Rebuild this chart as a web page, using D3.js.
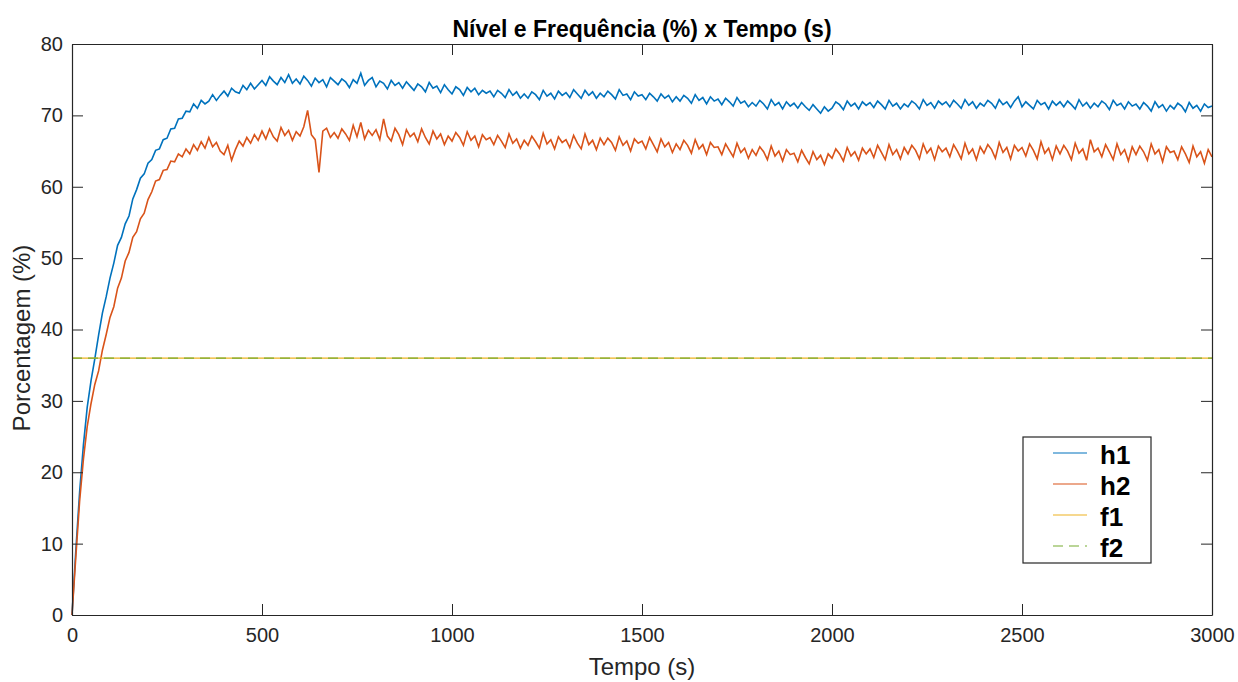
<!DOCTYPE html>
<html>
<head>
<meta charset="utf-8">
<script src="https://cdn.jsdelivr.net/npm/d3@7"></script>
<style>
  body { margin: 0; background: #fff; }
  svg { font-family: "Liberation Sans", Arial, sans-serif; }
  .axis path, .axis line { stroke: #262626; }
  .axis text { fill: #262626; font-size: 20px; }
</style>
</head>
<body>
<svg id="chart" width="1238" height="682"></svg>
<script>
// sample times (s), one sample every 10 s
var time = d3.range(0, 3001, 10);

// nivel 1 (%)
var h1 = [
  0, 9.0, 17.2, 23.8, 29.1, 32.8, 35.9, 39.2, 42.3, 44.6,
  47.2, 49.3, 51.8, 52.9, 54.8, 55.9, 58.3, 59.6, 61.2, 61.8,
  63.3, 63.8, 65.1, 65.3, 66.6, 66.8, 68.1, 68.2, 69.5, 69.6,
  70.6, 70.5, 71.6, 71.0, 72.1, 71.6, 72.0, 72.9, 72.1, 72.8,
  73.4, 72.7, 73.8, 73.3, 73.1, 74.2, 73.6, 74.5, 73.7, 74.3,
  74.9, 74.2, 75.4, 74.8, 74.3, 75.3, 74.6, 75.7, 74.5, 75.1,
  74.4, 75.5, 74.9, 74.1, 75.2, 74.6, 75.0, 74.0, 75.3, 74.8,
  74.3, 75.1, 74.7, 73.9, 75.0, 74.5, 75.9, 74.2, 74.9, 75.3,
  74.0, 74.8, 74.5, 73.7, 74.9, 74.2, 74.6, 73.8, 74.7, 74.1,
  73.5, 74.4, 74.0, 73.3, 74.6, 73.8, 74.1, 73.2, 74.3, 73.6,
  73.0, 74.0, 73.6, 72.8, 73.9, 73.3, 73.8, 72.9, 73.5, 73.1,
  73.4, 72.6, 73.5, 73.1, 72.5, 73.6, 72.8, 73.3, 72.4, 73.0,
  72.4, 73.3, 72.9, 72.2, 73.5, 72.7, 73.1, 72.3, 73.4, 72.8,
  73.2, 72.5, 73.6, 73.0, 72.4, 73.5, 72.8, 73.3, 72.4, 73.1,
  72.6, 73.4, 72.9, 72.3, 73.6, 72.8, 73.0, 72.2, 73.3, 72.7,
  72.9, 72.2, 73.1, 72.6, 72.0, 73.0, 72.4, 72.8, 71.9, 72.6,
  72.0, 72.8, 72.4, 71.7, 72.9, 72.1, 72.5, 71.6, 72.6, 72.0,
  72.3, 71.5, 72.4, 71.9, 71.3, 72.5, 71.7, 72.0, 71.2, 71.8,
  71.3, 72.1, 71.6, 70.9, 72.2, 71.4, 71.8, 70.9, 71.9, 71.3,
  71.7, 71.0, 71.8, 71.2, 70.7, 71.5, 70.9, 70.3, 71.2, 70.6,
  71.0, 71.9, 71.5, 70.8, 72.0, 71.3, 71.7, 70.9, 71.9, 71.4,
  71.8, 71.1, 72.0, 71.5, 70.9, 72.1, 71.3, 71.7, 70.9, 71.6,
  71.2, 72.0, 71.6, 70.9, 72.2, 71.4, 71.8, 71.0, 72.0, 71.5,
  71.9, 71.2, 72.1, 71.6, 71.0, 72.2, 71.4, 71.9, 71.0, 71.7,
  71.3, 72.1, 71.7, 71.0, 72.2, 71.5, 71.9, 71.1, 72.0, 72.6,
  71.2, 71.9, 71.4, 70.9, 72.1, 71.5, 71.8, 70.9, 72.0, 71.4,
  71.9, 71.2, 72.0, 71.5, 70.9, 72.2, 71.3, 71.8, 71.0, 71.7,
  71.2, 72.0, 71.6, 70.8, 72.1, 71.4, 71.7, 70.9, 71.9, 71.3,
  71.6, 70.9, 71.8, 71.3, 70.6, 71.9, 71.1, 71.5, 70.6, 71.4,
  70.9, 71.7, 71.3, 70.5, 71.8, 71.0, 71.4, 70.6, 71.6, 71.1,
  71.3
];

// nivel 2 (%)
var h2 = [
  0, 8.1, 15.9, 21.8, 26.4, 29.6, 32.3, 34.2, 37.1, 39.3,
  41.7, 43.2, 45.8, 47.2, 49.6, 50.8, 52.9, 53.7, 55.5, 56.3,
  58.2, 59.3, 60.8, 61.0, 62.3, 62.4, 63.6, 63.5, 64.6, 64.2,
  65.3, 64.6, 65.9, 65.1, 66.3, 65.4, 66.9, 65.6, 66.2, 65.0,
  64.5, 65.8, 63.7, 65.2, 66.4, 65.7, 66.9, 66.1, 67.3, 66.5,
  67.8, 66.7, 68.1, 67.0, 66.4, 68.3, 67.2, 67.9, 66.5, 67.7,
  67.1, 68.4, 70.7, 67.3, 66.6, 62.0, 67.8, 68.2, 66.9, 67.6,
  66.8, 68.1, 67.4, 66.5, 68.6, 67.0, 69.0, 66.7, 67.9, 67.2,
  68.0, 66.6, 69.5, 67.1, 66.4, 68.2, 67.3, 65.9, 68.0, 67.0,
  67.5, 66.3, 68.1, 66.9, 66.0, 67.8, 66.7, 67.4, 65.9, 67.1,
  66.4, 67.6, 66.9, 65.8, 67.7, 66.5, 67.1, 65.6, 67.3, 66.6,
  66.9, 65.9, 67.2, 66.4, 65.5, 67.4, 66.1, 66.7, 65.4, 66.5,
  65.8, 67.1, 66.3, 65.4, 67.5, 66.0, 66.6, 65.3, 67.0, 66.2,
  66.6, 65.5, 67.2, 66.1, 65.3, 67.4, 65.9, 66.5, 65.2, 66.8,
  65.9, 66.8, 66.2, 65.1, 67.0, 65.8, 66.4, 65.0, 66.7, 66.1,
  66.4, 65.3, 66.9, 65.9, 64.9, 66.7, 65.6, 66.2, 64.8, 66.0,
  65.2, 66.5, 65.8, 64.7, 66.6, 65.3, 65.9, 64.5, 66.2, 65.5,
  65.6, 64.5, 66.0, 65.1, 64.2, 66.1, 64.8, 65.4, 64.0, 65.2,
  64.4, 65.6, 64.9, 63.8, 65.7, 64.3, 65.0, 63.6, 65.2, 64.5,
  64.7, 63.5, 65.1, 64.1, 63.2, 64.9, 63.8, 64.4, 63.1, 64.6,
  64.0, 65.3, 64.6, 63.6, 65.5, 64.3, 64.9, 63.7, 65.4, 64.6,
  65.3, 64.1, 65.8, 64.8, 63.8, 65.9, 64.5, 65.2, 63.9, 65.5,
  64.6, 65.8, 65.1, 63.9, 66.0, 64.7, 65.4, 63.8, 65.7, 64.9,
  65.4, 64.2, 65.9, 65.0, 63.9, 66.1, 64.6, 65.3, 63.8, 65.6,
  64.7, 65.9, 65.2, 64.0, 66.2, 64.8, 65.5, 63.9, 65.8, 65.0,
  65.5, 64.3, 66.0, 65.1, 63.9, 66.3, 64.7, 65.4, 63.8, 65.7,
  64.6, 65.8, 65.0, 63.8, 66.1, 64.7, 65.3, 63.7, 66.6, 64.9,
  65.4, 64.2, 65.9, 64.9, 63.8, 66.0, 64.5, 65.2, 63.6, 65.6,
  64.5, 65.7, 64.9, 63.7, 66.0, 64.6, 65.2, 63.5, 65.6, 64.8,
  65.0, 63.8, 65.6, 64.6, 63.4, 65.7, 64.2, 64.9, 63.3, 65.2,
  64.2
];

// frequencias (%), constantes
var fTime = [0, 3000];
var f1 = [36, 36];
var f2 = [36, 36];

var xTicks = [0, 500, 1000, 1500, 2000, 2500, 3000];
var yTicks = [0, 10, 20, 30, 40, 50, 60, 70, 80];
var legendLabels = ["h1", "h2", "f1", "f2"];

var colors = { h1: "#0072BD", h2: "#D95319", f1: "#EDB120", f2: "#77AC30" };

var margin = { left: 72, top: 44, right: 26, bottom: 67 };
var width = 1238 - margin.left - margin.right;
var height = 682 - margin.top - margin.bottom;

var svg = d3.select("#chart");
var g = svg.append("g")
  .attr("transform", "translate(" + margin.left + "," + margin.top + ")");

var xScale = d3.scaleLinear().domain([0, 3000]).range([0, width]);
var yScale = d3.scaleLinear().domain([0, 80]).range([height, 0]);

var line = d3.line()
  .x(function (d) { return xScale(d[0]); })
  .y(function (d) { return yScale(d[1]); });

function pairs(xs, ys) {
  return xs.map(function (x, i) { return [x, ys[i]]; });
}

g.append("path")
  .datum(pairs(time, h1))
  .attr("d", line)
  .attr("fill", "none")
  .attr("stroke", colors.h1)
  .attr("stroke-width", 1.6);

g.append("path")
  .datum(pairs(time, h2))
  .attr("d", line)
  .attr("fill", "none")
  .attr("stroke", colors.h2)
  .attr("stroke-width", 1.6);

g.append("path")
  .datum(pairs(fTime, f1))
  .attr("d", line)
  .attr("fill", "none")
  .attr("stroke", colors.f1)
  .attr("stroke-width", 1.2);

g.append("path")
  .datum(pairs(fTime, f2))
  .attr("d", line)
  .attr("fill", "none")
  .attr("stroke", colors.f2)
  .attr("stroke-width", 1.2)
  .attr("stroke-dasharray", "10,6");

// axes, ticks pointing inward like matlab
var tick = 11;
var fmt = d3.format("d");
g.append("g").attr("class", "axis")
  .attr("transform", "translate(0," + height + ")")
  .call(d3.axisBottom(xScale).tickValues(xTicks).tickFormat(fmt).tickSize(-tick).tickSizeOuter(0).tickPadding(13));
g.append("g").attr("class", "axis")
  .call(d3.axisTop(xScale).tickValues(xTicks).tickSize(-tick).tickSizeOuter(0).tickFormat(""));
g.append("g").attr("class", "axis")
  .call(d3.axisLeft(yScale).tickValues(yTicks).tickFormat(fmt).tickSize(-tick).tickSizeOuter(0).tickPadding(9));
g.append("g").attr("class", "axis")
  .attr("transform", "translate(" + width + ",0)")
  .call(d3.axisRight(yScale).tickValues(yTicks).tickSize(-tick).tickSizeOuter(0).tickFormat(""));

g.selectAll(".axis .domain").attr("stroke-width", 1.2);

// title and labels
svg.append("text")
  .attr("x", margin.left + width / 2)
  .attr("y", 37)
  .attr("text-anchor", "middle")
  .attr("font-weight", "bold")
  .attr("font-size", 23)
  .attr("fill", "#000")
  .text("Nível e Frequência (%) x Tempo (s)");

svg.append("text")
  .attr("x", margin.left + width / 2)
  .attr("y", 675)
  .attr("text-anchor", "middle")
  .attr("font-size", 24)
  .attr("fill", "#262626")
  .text("Tempo (s)");

svg.append("text")
  .attr("transform", "translate(30,338) rotate(-90)")
  .attr("text-anchor", "middle")
  .attr("font-size", 24)
  .attr("fill", "#262626")
  .text("Porcentagem (%)");

// legend
var legend = svg.append("g").attr("transform", "translate(1023,437)");
legend.append("rect")
  .attr("width", 128).attr("height", 126)
  .attr("fill", "#fff")
  .attr("stroke", "#262626")
  .attr("stroke-width", 1.2);

var legendRow = legend.selectAll(".row")
  .data(legendLabels)
  .enter().append("g")
  .attr("class", "row")
  .attr("transform", function (d, i) { return "translate(0," + (16 + i * 31) + ")"; });

legendRow.append("line")
  .attr("x1", 30).attr("x2", 64)
  .attr("stroke", function (d) { return colors[d]; })
  .attr("stroke-width", 1.2)
  .attr("stroke-dasharray", function (d) { return d === "f2" ? "10,6" : null; });

legendRow.append("text")
  .attr("x", 77)
  .attr("y", 11)
  .attr("font-weight", "bold")
  .attr("font-size", 26)
  .attr("fill", "#000")
  .text(function (d) { return d; });
</script>
</body>
</html>
